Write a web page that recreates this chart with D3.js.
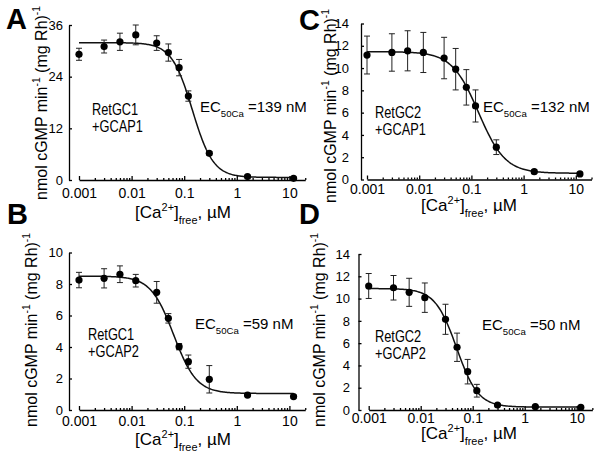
<!DOCTYPE html>
<meta charset="utf-8">
<style>
body { margin: 0; background: #fff; }
svg { font-family: "Liberation Sans", Arial, sans-serif; }
.axis path, .axis line { stroke: #000; stroke-width: 1.3px; fill: none; }
.axis text { fill: #000; }
.curve { fill: none; stroke: #111; stroke-width: 1.5px; }
.err line { stroke: #222; stroke-width: 1px; }
</style>
<svg width="601" height="463"></svg>
<script src="https://cdn.jsdelivr.net/npm/d3@7"></script>
<script>

// free Ca2+ (uM) used in every titration
var caFree = [0.001, 0.003, 0.006, 0.012, 0.03, 0.05, 0.08, 0.12, 0.3, 1.6, 12];

// A: RetGC1 + GCAP1
var rateA = [29.2, 31.0, 32.1, 33.7, 31.8, 29.6, 26.1, 19.5, 6.2, 0.8, 0.4];
var errA  = [1.4, 1.5, 2.0, 2.3, 1.7, 2.0, 1.9, 1.2, 0.4, 0.3, 0.3];
var fitA  = [31.9, 0.6, 0.143, 2.2];   // top, bottom, EC50 (uM), Hill n

// B: RetGC1 + GCAP2
var rateB = [8.25, 8.36, 8.62, 8.21, 7.47, 5.82, 4.02, 3.07, 1.95, 0.95, 0.85];
var errB  = [0.49, 0.61, 0.53, 0.4, 0.69, 0.3, 0.2, 0.42, 0.87, 0.1, 0.1];
var fitB  = [8.5, 1.05, 0.063, 2.0];

// C: RetGC2 + GCAP1
var rateC = [11.17, 11.4, 11.55, 11.4, 10.9, 9.9, 8.27, 6.6, 2.9, 0.7, 0.5];
var errC  = [1.7, 1.68, 1.8, 1.8, 1.86, 1.86, 1.59, 1.44, 0.66, 0.15, 0.15];
var fitC  = [11.47, 0.56, 0.137, 1.7];

// D: RetGC2 + GCAP2
var rateD = [11.13, 10.97, 10.56, 10.08, 8.14, 5.63, 3.44, 1.73, 0.45, 0.3, 0.24];
var errD  = [1.12, 1.1, 1.26, 1.32, 1.35, 1.27, 1.1, 0.57, 0.1, 0.1, 0.1];
var fitD  = [10.9, 0.26, 0.049, 2.1];

var yTicksA = [0, 12, 24, 36];
var yTicksB = [0, 2, 4, 6, 8, 10];
var yTicksCD = [0, 2, 4, 6, 8, 10, 12, 14];
var xTicks = [0.001, 0.01, 0.1, 1, 10];
var xTickLabels = ["0.001", "0.01", "0.1", "1", "10"];

var panels = [
  {letter: "A", rate: rateA, err: errA, fit: fitA, yTicks: yTicksA, yMax: 36,
   x0: 79, decade: 52.6, yAxisX: 69, yBottom: 180, yTop: 25, tickPad: 8, yPad: 6,
   letterPos: [6, 29], yLab: [47, 103], xLab: [183, 218],
   gc: ["RetGC1", "+GCAP1"], gcPos: [92, 115], ec: "139", ecPos: [200, 112]},
  {letter: "B", rate: rateB, err: errB, fit: fitB, yTicks: yTicksB, yMax: 10,
   x0: 79, decade: 52.6, yAxisX: 69, yBottom: 410, yTop: 252.5, tickPad: 6, yPad: 6,
   letterPos: [7, 224], yLab: [37, 330], xLab: [183, 445],
   gc: ["RetGC1", "+GCAP2"], gcPos: [88, 340], ec: "59", ecPos: [195, 329]},
  {letter: "C", rate: rateC, err: errC, fit: fitC, yTicks: yTicksCD, yMax: 14,
   x0: 367, decade: 52.2, yAxisX: 361, yBottom: 179.5, yTop: 23.5, tickPad: 4.5, yPad: 12,
   letterPos: [299, 30], yLab: [336, 106], xLab: [469, 211],
   gc: ["RetGC2", "+GCAP1"], gcPos: [375, 118], ec: "132", ecPos: [483, 112]},
  {letter: "D", rate: rateD, err: errD, fit: fitD, yTicks: yTicksCD, yMax: 14,
   x0: 368.7, decade: 52, yAxisX: 358.5, yBottom: 410, yTop: 254, tickPad: 3.5, yPad: 8.5,
   letterPos: [299, 224], yLab: [325, 330], xLab: [469, 439],
   gc: ["RetGC2", "+GCAP2"], gcPos: [375, 342], ec: "50", ecPos: [482, 330]}
];

var svg = d3.select("svg");

// write text made of normal / sup / sub pieces
function richText(sel, parts, size) {
  var shift = 0;
  parts.forEach(function(p) {
    var target = p[1] == "sup" ? -0.42 * size : (p[1] == "sub" ? 0.33 * size : 0);
    sel.append("tspan")
      .attr("dy", target - shift)
      .style("font-size", (p[1] ? size * 0.64 : size) + "px")
      .text(p[0]);
    shift = target;
  });
}

function hill(fit, c) {
  return fit[1] + (fit[0] - fit[1]) / (1 + Math.pow(c / fit[2], fit[3]));
}

panels.forEach(function(p) {
  var g = svg.append("g");

  var x = d3.scaleLog()
      .domain([0.001, 20])
      .range([p.x0, p.x0 + p.decade * Math.log10(20 / 0.001)]);
  var y = d3.scaleLinear()
      .domain([0, p.yMax])
      .range([p.yBottom, p.yTop]);

  // y axis, ticks pointing inward
  g.append("g")
      .attr("class", "axis")
      .attr("transform", "translate(" + p.yAxisX + ",0)")
      .call(d3.axisLeft(y).tickValues(p.yTicks).tickSize(-3).tickSizeOuter(0).tickPadding(p.yPad))
      .call(function(a) { a.selectAll("text").style("font-size", "13px"); });

  // x axis: majors with labels, then minors
  var xAxisY = p.yBottom;
  g.append("g")
      .attr("class", "axis")
      .attr("transform", "translate(0," + xAxisY + ")")
      .call(d3.axisBottom(x).tickValues(xTicks).tickSize(-4).tickSizeOuter(0).tickPadding(p.tickPad)
        .tickFormat(function(d, i) { return xTickLabels[i]; }))
      .call(function(a) { a.selectAll("text").style("font-size", "14px"); });

  var minors = x.ticks().filter(function(t) { return xTicks.indexOf(t) < 0; });
  g.append("g")
      .attr("class", "axis")
      .attr("transform", "translate(0," + xAxisY + ")")
      .call(d3.axisBottom(x).tickValues(minors).tickSize(-2).tickSizeOuter(0).tickFormat(""))
      .call(function(a) { a.select(".domain").remove(); });

  // fitted curve
  var cs = d3.range(-3, Math.log10(12) + 0.001, 0.02).map(function(e) { return Math.pow(10, e); });
  g.append("path")
      .datum(cs)
      .attr("class", "curve")
      .attr("d", d3.line()
        .x(function(c) { return x(c); })
        .y(function(c) { return y(hill(p.fit, c)); }));

  // error bars
  var pts = caFree.map(function(c, i) { return {c: c, v: p.rate[i], e: p.err[i]}; });
  var eb = g.append("g").attr("class", "err")
      .selectAll("g").data(pts).enter().append("g");
  eb.append("line")
      .attr("x1", function(d) { return x(d.c); })
      .attr("x2", function(d) { return x(d.c); })
      .attr("y1", function(d) { return y(d.v - d.e); })
      .attr("y2", function(d) { return y(d.v + d.e); });
  [-1, 1].forEach(function(s) {
    eb.append("line")
      .attr("x1", function(d) { return x(d.c) - 3; })
      .attr("x2", function(d) { return x(d.c) + 3; })
      .attr("y1", function(d) { return y(d.v + s * d.e); })
      .attr("y2", function(d) { return y(d.v + s * d.e); });
  });

  // points
  g.append("g").selectAll("circle")
      .data(pts).enter().append("circle")
      .attr("cx", function(d) { return x(d.c); })
      .attr("cy", function(d) { return y(d.v); })
      .attr("r", 3.6)
      .attr("fill", "#000");

  // labels
  g.append("text")
      .attr("x", p.letterPos[0]).attr("y", p.letterPos[1])
      .style("font-size", "29px").style("font-weight", "bold")
      .text(p.letter);

  var yl = g.append("text")
      .attr("transform", "translate(" + p.yLab[0] + "," + p.yLab[1] + ") rotate(-90)")
      .attr("text-anchor", "middle");
  richText(yl, [["nmol cGMP min"], ["-1", "sup"], [" (mg Rh)"], ["-1", "sup"]], 16);

  var xl = g.append("text")
      .attr("x", p.xLab[0]).attr("y", p.xLab[1])
      .attr("text-anchor", "middle");
  richText(xl, [["[Ca"], ["2+", "sup"], ["]"], ["free", "sub"], [", \u00b5M"]], 17);

  p.gc.forEach(function(s, i) {
    g.append("text")
      .attr("transform", "translate(" + p.gcPos[0] + "," + (p.gcPos[1] + i * 17) + ") scale(0.8,1)")
      .style("font-size", "16px")
      .text(s);
  });

  var ect = g.append("text")
      .attr("x", p.ecPos[0]).attr("y", p.ecPos[1]);
  richText(ect, [["EC"], ["50Ca", "sub"], [" =" + p.ec + " nM"]], 15);
});

</script>
